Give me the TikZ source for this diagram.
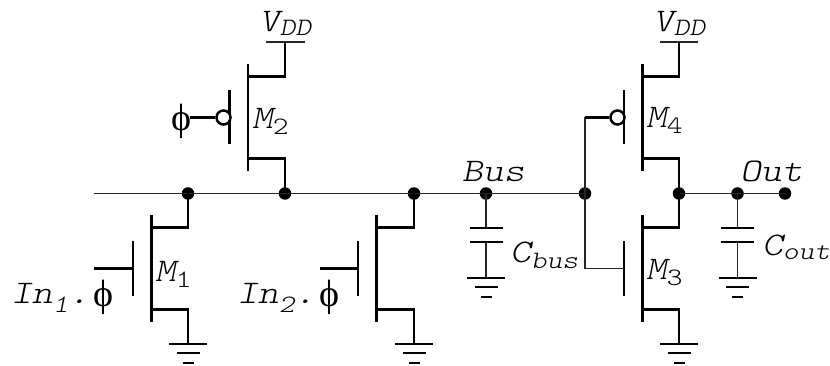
\documentclass[tikz,border=0pt]{standalone}
\usepackage{fontspec}
\setmainfont{Latin Modern Mono Light}[FakeStretch=1.2]
\newfontfamily\phifont{Liberation Serif}
\tikzset{
  thick wire/.style={line width=2.5pt,black},
  thin wire/.style={line width=1.7pt,black!85},
  plate/.style={line width=2.4pt,black},
  dotnode/.style={circle,fill=black,inner sep=0pt,minimum size=12.5pt},
  bubble/.style={circle,draw=black,line width=2.5pt,fill=white,inner sep=0pt,minimum size=14pt},
  lbl/.style={inner sep=0pt,text=black,font=\fontsize{33}{33}\selectfont\slshape,anchor=base west},
}
\newcommand{\sub}[2][6pt]{\raisebox{-#1}{\fontsize{25}{25}\selectfont #2}}
\newcommand{\subup}[2][6pt]{\raisebox{-#1}{\fontsize{25}{25}\selectfont\upshape #2}}
\newcommand{\phisym}{{\phifont\upshape\fontsize{38}{38}\selectfont\symbol{"03D5}}}
% transistor body: name, channel x, vertical centre y, drain x
\newcommand{\mosbody}[4]{%
  \coordinate (#1ct) at (#2,#3-53.5);
  \coordinate (#1cb) at (#2,#3+53.5);
  \coordinate (#1gt) at (#2-18.5,#3-27);
  \coordinate (#1gb) at (#2-18.5,#3+27);
  \coordinate (#1g) at (#2-18.5,#3);
  \coordinate (#1dc) at (#2,#3-41);
  \coordinate (#1sc) at (#2,#3+41);
  \coordinate (#1d) at (#4,#3-41);
  \coordinate (#1s) at (#4,#3+41);
  \draw[thick wire] (#1ct) -- (#1cb);
  \draw[thick wire] (#1gt) -- (#1gb);
  \draw[thick wire,line cap=rect] (#1dc) -- (#1d);
  \draw[thick wire,line cap=rect] (#1sc) -- (#1s);
}
% ground: name, x, y of top bar
\newcommand{\gnd}[3]{%
  \coordinate (#1) at (#2,#3);
  \draw[plate] (#2-19,#3) -- (#2+19,#3);
  \draw[plate] (#2-11.5,#3+9) -- (#2+11.5,#3+9);
  \draw[plate] (#2-5.5,#3+19) -- (#2+5.5,#3+19);
}
% capacitor: name, x
\newcommand{\capac}[2]{%
  \coordinate (#1t) at (#2,228);
  \coordinate (#1b) at (#2,242);
  \draw[plate] (#2-16.5,228) -- (#2+16.5,228);
  \draw[plate] (#2-16.5,242) -- (#2+16.5,242);
}
\begin{document}
\begin{tikzpicture}[x=1pt,y=-1pt]
\useasboundingbox (0,0) rectangle (830,366);

% junctions
\node[dotnode] (j1) at (188,193.5) {};
\node[dotnode] (j2) at (285,193.5) {};
\node[dotnode] (j3) at (414,193.5) {};
\node[dotnode] (j4) at (486,193.5) {};
\node[dotnode] (j5) at (585,193.5) {};
\node[dotnode] (j6) at (679,193.5) {};
\node[dotnode] (j7) at (737.5,193.5) {};
\node[dotnode] (j8) at (785,193.5) {};
\coordinate (wstart) at (94,193.5);

% buses
\draw[thin wire] (wstart) -- (j1.center) -- (j2.center) -- (j3.center) -- (j4.center) -- (j5.center);
\draw[thin wire] (j6.center) -- (j7.center) -- (j8.center);

% transistors
\mosbody{a}{151.5}{268.5}{188}
\mosbody{b}{248}{117.5}{285}
\mosbody{c}{376.5}{268.5}{414}
\mosbody{d}{642.7}{268.5}{679}
\mosbody{e}{642.7}{117.5}{679}

\draw[thick wire] (ad) -- (j1.center);
\draw[thick wire] (bs) -- (j2.center);
\draw[thick wire] (cd) -- (j3.center);
\draw[thick wire] (dd) -- (j6.center);
\draw[thick wire] (es) -- (j6.center);

% gate leads
\coordinate (ain) at (94,268.5);
\coordinate (cin) at (320,268.5);
\draw[thick wire] (ain) -- (ag);
\draw[thick wire] (cin) -- (cg);
\draw[thin wire] (j5.center) |- (dg);
\node[bubble] (bb) at (223.5,117.5) {};
\node[bubble] (eb) at (617.5,117.5) {};
\coordinate (bin) at (190,117.5);
\draw[thick wire] (bin) -- (bb);
\draw[thin wire] (j5.center) -- (585,117.5);
\draw[thick wire] (585,117.5) -- (eb);

% grounds and supplies
\gnd{ga}{188}{344}
\gnd{gc}{414}{344}
\gnd{gd}{679}{344}
\draw[thick wire] (as) -- (ga);
\draw[thick wire] (cs) -- (gc);
\draw[thick wire] (ds) -- (gd);

\coordinate (vb) at (285,42);
\coordinate (ve) at (679,42);
\draw[thin wire] (265.5,42) -- (304.5,42);
\draw[thin wire] (660,42) -- (698,42);
\draw[thick wire] (bd) -- (vb);
\draw[thick wire] (ed) -- (ve);

% capacitors
\capac{p}{486}
\capac{q}{737.5}
\gnd{gp}{486}{278}
\gnd{gq}{737.5}{278}
\draw[thin wire] (j4.center) -- (pt);
\draw[thin wire] (pb) -- (gp);
\draw[thin wire] (j7.center) -- (qt);
\draw[thin wire] (qb) -- (gq);

% labels
\node[lbl] (l1) at (11,303) {In\sub[9pt]{1}.};
\node[lbl] (p1) at (93,306) {\phisym};
\node[lbl] (l2) at (237,303) {In\sub[9pt]{2}.};
\node[lbl] (p2) at (319,306) {\phisym};
\node[lbl] (p3) at (171,131) {\phisym};
\node[lbl] (m1) at (155,281) {M\subup{1}};
\node[lbl] (m2) at (252,129) {M\subup{2}};
\node[lbl] (m4) at (646,128) {M\subup{4}};
\node[lbl] (m3) at (646,279) {M\subup{3}};
\node[lbl] (v1) at (259,32) {V\sub[4pt]{DD}};
\node[lbl] (v2) at (653,32) {V\sub[4pt]{DD}};
\node[lbl] (bus) at (462,182) {Bus};
\node[lbl] (out) at (740,182) {Out};
\node[lbl] (cb) at (510,262) {C\sub{bus}};
\node[lbl] (co) at (762,255) {C\sub[4pt]{out}};
\end{tikzpicture}
\end{document}
